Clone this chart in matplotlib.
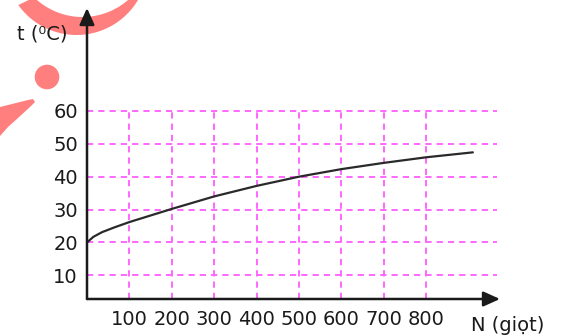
import numpy as np
import matplotlib
matplotlib.use("Agg")
import matplotlib.pyplot as plt
from matplotlib.patches import Circle, Polygon

# data
n_drops = [0, 15, 35, 65, 100, 200, 300, 400, 500, 600, 700, 800, 910]
temp = [20, 21.7, 23.1, 24.6, 26.2, 30.2, 34.0, 37.2, 40, 42.3, 44.2, 45.9, 47.4]
x_ticks = [100, 200, 300, 400, 500, 600, 700, 800]
y_ticks = [10, 20, 30, 40, 50, 60]

pink = '#ff66ff'
ink = '#1a1a1a'
deco = '#ff7f7f'

W, H = 566, 336
fig = plt.figure(figsize=(W / 100, H / 100), dpi=100)

# decorative pink shapes (pixel space overlay)
bg = fig.add_axes([0, 0, 1, 1], zorder=0)
bg.set_xlim(0, W)
bg.set_ylim(H, 0)
bg.axis('off')

def arc(cx, cy, r, a0, a1, k=60):
    t = np.linspace(a0, a1, k)
    return np.column_stack([cx + r * np.cos(t), cy + r * np.sin(t)])

outer = arc(76.5, -36.5, 71.5, np.pi - 0.62, 0.45)
inner = arc(82.5, -52.4, 69.4, 0.55, np.pi - 0.8)
bg.add_patch(Polygon(np.vstack([outer, inner]), closed=True, color=deco, lw=0))
bg.add_patch(Circle((47, 77), 12.3, color=deco, lw=0))
bg.add_patch(Polygon([(0, 107), (28, 100), (33, 99), (35, 102), (30, 107),
                      (18, 118), (8, 127), (0, 136)], closed=True, color=deco, lw=0))

ax = fig.add_axes([87 / W, 37 / H, 413 / W, 291 / H], zorder=1)
ax.patch.set_alpha(0)
ax.set_xlim(0, 974)
ax.set_ylim(2.8, 91.3)
for s in ax.spines.values():
    s.set_visible(False)

# dashed magenta grid
ax.hlines(y_ticks, 0, 968, colors=pink, lw=1.4, linestyles=(0, (3.2, 2.6)), zorder=1)
ax.vlines(x_ticks, 2.8, 60.6, colors=pink, lw=1.4, linestyles=(0, (3.2, 2.6)), zorder=1)

ax.plot(n_drops, temp, color='#2a2a2a', lw=1.6, zorder=3, solid_capstyle='round')

# axes with arrow heads
arrow = dict(arrowstyle='-|>,head_length=1.0,head_width=0.45', color=ink, lw=1.8,
             shrinkA=0, shrinkB=0, mutation_scale=10)
ax.annotate('', xy=(1, 0), xytext=(0, 0), xycoords='axes fraction', arrowprops=arrow, zorder=4)
ax.annotate('', xy=(0, 1), xytext=(0, 0), xycoords='axes fraction', arrowprops=arrow, zorder=4)

ax.set_xticks(x_ticks)
ax.set_xticklabels([str(v) for v in x_ticks])
ax.set_yticks(y_ticks)
ax.set_yticklabels([str(v) for v in y_ticks])
ax.tick_params(length=0, labelsize=14, labelcolor=ink)
ax.tick_params(axis='x', pad=8)
ax.tick_params(axis='y', pad=6.5)

fig.text(471 / W, 1 - 331 / H, 'N (giọt)', fontsize=14, color=ink, va='baseline')
fig.text(17 / W, 1 - 39 / H, 't (⁰C)', fontsize=14, color=ink, va='baseline')

fig.savefig('out.png', dpi=100)
